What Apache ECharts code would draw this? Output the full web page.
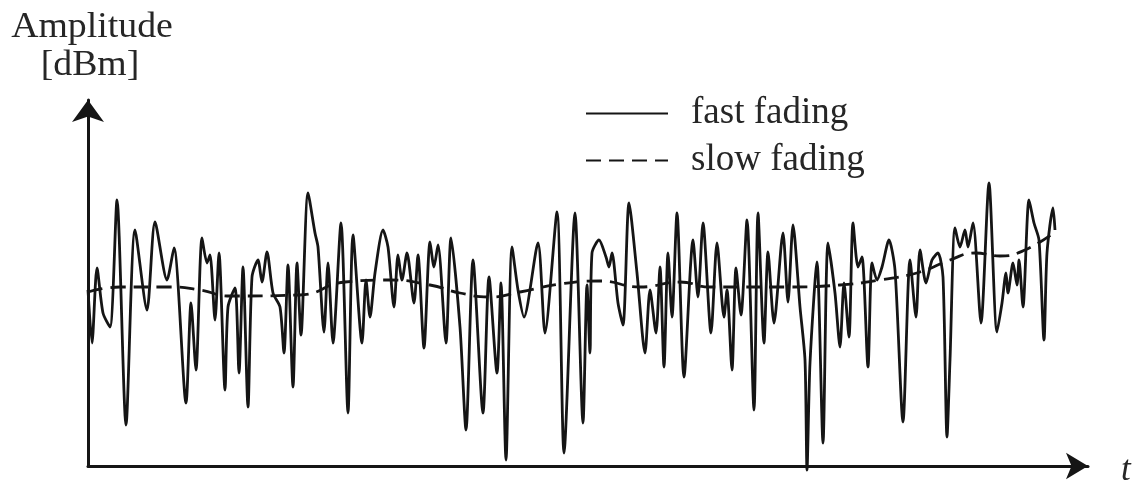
<!DOCTYPE html>
<html>
<head>
<meta charset="utf-8">
<script src="https://cdn.jsdelivr.net/npm/echarts@6/dist/echarts.min.js"></script>
<style>
  html, body { margin: 0; padding: 0; background: #fff; }
  #chart { width: 1134px; height: 480px; }
</style>
</head>
<body>
<div id="chart"></div>
<script>
// Time samples of the received signal
const fastTime = [
  0, 4, 9, 15, 22, 29, 38, 47, 59, 67, 79, 86, 98, 103, 108, 114, 119, 122, 127,
  131, 137, 140, 147, 151, 155, 160, 164, 170, 174, 179, 185, 192, 196, 200, 205, 209, 213,
  220, 227, 230, 236, 240, 245, 253, 260, 265, 274, 278, 282, 287, 295, 300, 306, 310, 314,
  319, 326, 330, 336, 342, 346, 350, 358, 363, 372, 378, 385, 395, 401, 409, 413, 418, 424,
  430, 436, 450, 457, 469, 476, 487, 495, 499, 502, 504, 511, 518, 521, 524, 530, 535, 541,
  549, 557, 562, 568, 572, 576, 580, 584, 589, 596, 605, 610, 615, 623, 629, 636, 639, 644,
  648, 653, 659, 666, 670, 676, 680, 686, 695, 700, 705, 712, 717, 719, 722, 729, 735, 740,
  747, 752, 756, 761, 765, 770, 774, 780, 784, 789, 794, 801, 807, 815, 822, 828, 832, 838,
  844, 850, 855, 859, 862, 867, 872, 877, 880, 885, 893, 901, 909, 914, 918, 920, 925, 929,
  931, 935, 941, 946, 951, 956, 959, 965, 967
];
// Fast fading amplitude (relative level)
const fastLevel = [
  176, 123, 198, 153, 139, 266, 41, 236, 156, 244, 186, 218, 63, 163, 96, 228, 203, 211, 146,
  213, 76, 159, 178, 93, 199, 59, 189, 206, 184, 214, 173, 159, 113, 201, 79, 203, 131,
  273, 233, 219, 134, 203, 123, 243, 53, 231, 123, 186, 149, 193, 236, 219, 159, 211, 186,
  213, 163, 211, 118, 224, 199, 221, 123, 228, 139, 36, 206, 53, 189, 93, 183, 6, 219,
  176, 149, 223, 133, 254, 13, 253, 43, 181, 113, 213, 226, 209, 199, 213, 163, 141, 263,
  193, 113, 176, 133, 199, 99, 213, 149, 253, 89, 226, 169, 243, 133, 223, 149, 176, 96,
  198, 151, 246, 56, 253, 123, 214, 143, 233, 164, 241, 159, 106, -4, 103, 204, 23, 223,
  173, 119, 183, 129, 243, 199, 209, 99, 203, 186, 199, 226, 196, 44, 206, 149, 216, 183,
  206, 213, 189, 29, 106, 238, 219, 236, 219, 243, 143, 283, 134, 163, 193, 173, 203, 181,
  206, 159, 266, 243, 226, 126, 213, 258, 236
];
// Slow fading (local mean) trend
const slowTime = [0, 32, 82, 112, 142, 212, 257, 302, 342, 372, 402, 432, 472, 512, 552, 592, 622, 702, 752, 792, 832, 862, 887, 912, 937, 967];
const slowLevel = [174, 179, 179, 176, 170, 171, 184, 186, 181, 173, 169, 174, 182, 185, 179, 184, 179, 179, 181, 186, 194, 206, 213, 210, 216, 234];

const seriesNames = ['fast fading', 'slow fading'];
const axisTitle = ['Amplitude', '[dBm]'];
const timeLabel = 't';

const pair = (xs, ys) => xs.map((x, i) => [x, ys[i]]);
const serif = '"Liberation Serif", "Times New Roman", serif';
const ink = '#151515';
const textInk = '#262626';

const chart = echarts.init(document.getElementById('chart'), null, { renderer: 'canvas' });
chart.setOption({
  backgroundColor: '#ffffff',
  animation: false,
  grid: { left: 88, right: 46, top: 100, bottom: 14 },
  legend: {
    orient: 'vertical',
    left: 585,
    top: 95,
    padding: 0,
    itemGap: 10,
    itemWidth: 82,
    itemHeight: 20,
    itemStyle: { opacity: 0 },
    textStyle: { fontFamily: serif, fontSize: 37, color: textInk, padding: [0, 0, 0, 18] },
    data: seriesNames
  },
  xAxis: {
    type: 'value',
    min: 0,
    max: 1000,
    axisLine: {
      show: true,
      onZero: false,
      symbol: ['none', 'arrow'],
      symbolSize: [20, 22],
      lineStyle: { color: ink, width: 3 }
    },
    axisTick: { show: false },
    axisLabel: { show: false },
    splitLine: { show: false }
  },
  yAxis: {
    type: 'value',
    min: 0,
    max: 366,
    axisLine: {
      show: true,
      onZero: false,
      symbol: ['none', 'arrow'],
      symbolSize: [24, 22],
      lineStyle: { color: ink, width: 3 }
    },
    axisTick: { show: false },
    axisLabel: { show: false },
    splitLine: { show: false }
  },
  graphic: [
    { type: 'text', x: 92, y: 28, scaleX: 1.08, style: { text: axisTitle[0], font: '35px ' + serif, fill: textInk, align: 'center', verticalAlign: 'middle' } },
    { type: 'text', x: 90, y: 66, scaleX: 1.08, style: { text: axisTitle[1], font: '35px ' + serif, fill: textInk, align: 'center', verticalAlign: 'middle' } },
    { type: 'text', x: 1121, y: 471, style: { text: timeLabel, font: 'italic 35px ' + serif, fill: textInk, align: 'left', verticalAlign: 'middle' } }
  ],
  series: [
    {
      name: seriesNames[0],
      type: 'line',
      data: pair(fastTime, fastLevel),
      symbol: 'none',
      smooth: 0.25,
      clip: false,
      lineStyle: { color: ink, width: 2.8 },
      itemStyle: { color: ink },
      z: 3
    },
    {
      name: seriesNames[1],
      type: 'line',
      data: pair(slowTime, slowLevel),
      symbol: 'none',
      smooth: 0.5,
      clip: false,
      lineStyle: { color: ink, width: 2.8, type: [15, 8] },
      itemStyle: { color: ink },
      z: 4
    }
  ]
});
</script>
</body>
</html>
